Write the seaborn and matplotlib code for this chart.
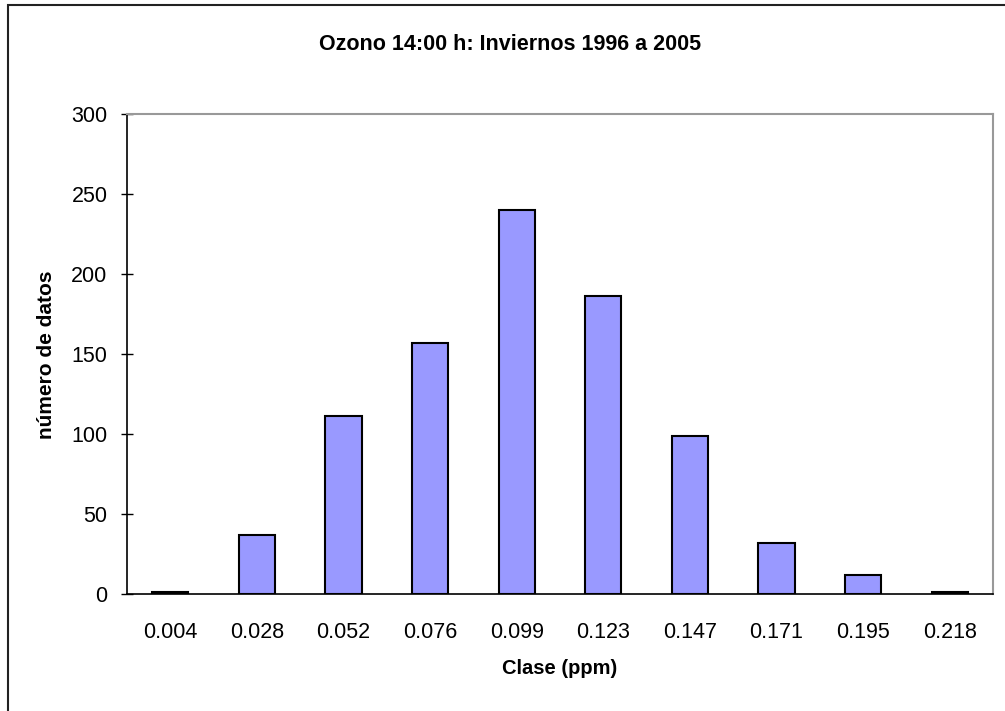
import matplotlib
matplotlib.use("Agg")
import matplotlib.pyplot as plt
import seaborn as sns
import pandas as pd
from matplotlib.patches import Rectangle

# ---------------------------
# Data
# ---------------------------
clases = ["0.004", "0.028", "0.052", "0.076", "0.099",
          "0.123", "0.147", "0.171", "0.195", "0.218"]
num_datos = [1, 37, 111, 157, 240, 186, 99, 32, 12, 1]

df = pd.DataFrame({"clase": clases, "n": num_datos})

sns.set_style("white")
plt.rcParams["font.family"] = ["Liberation Sans", "DejaVu Sans"]
plt.rcParams["text.color"] = "black"
plt.rcParams["xtick.color"] = "black"
plt.rcParams["ytick.color"] = "black"

fig = plt.figure(figsize=(10.05, 7.11), dpi=100)
ax = fig.add_axes([127 / 1005, 1 - 594 / 711, (993 - 127) / 1005, (594 - 114) / 711])

sns.barplot(x="clase", y="n", data=df, ax=ax, color="#9999FF",
            edgecolor="black", linewidth=1.5, width=0.42, saturation=1)

ax.set_xlim(-0.5, len(clases) - 0.5)
ax.set_ylim(0, 300)
ax.set_yticks(range(0, 301, 50))
ax.set_xlabel("")
ax.set_ylabel("")

# ticks: labels at the bar centres, marks between categories
ax.tick_params(axis="x", which="major", length=0, pad=20, labelsize=15.5,
               labelcolor="black")
ax.set_xticks([i - 0.5 for i in range(len(clases) + 1)], minor=True)
ax.tick_params(axis="x", which="minor", direction="inout", length=8, width=1, color="black")
ax.tick_params(axis="y", direction="inout", length=8, width=1, color="black",
               pad=10, labelsize=15.5, left=True, labelcolor="black")

for side in ["left", "bottom"]:
    ax.spines[side].set_color("black")
    ax.spines[side].set_linewidth(1.2)
for side in ["top", "right"]:
    ax.spines[side].set_visible(True)
    ax.spines[side].set_color("#999999")
    ax.spines[side].set_linewidth(1.5)

# ---------------------------
# Texts
# ---------------------------
fig.text(510 / 1005, 1 - 44 / 711, "Ozono 14:00 h: Inviernos 1996 a 2005",
         ha="center", va="center", fontsize=15.5, fontweight="bold", color="black")
fig.text(560 / 1005, 1 - 668 / 711, "Clase (ppm)",
         ha="center", va="center", fontsize=14.5, fontweight="bold", color="black")
fig.text(47 / 1005, 1 - 355 / 711, "número de datos", rotation=90,
         ha="center", va="center", fontsize=15, fontweight="bold", color="black")

# outer chart frame (only left and top edges fall inside the image)
fig.patches.append(Rectangle((8 / 1005, -0.02), 1.2, (711 - 5) / 711 + 0.02,
                             transform=fig.transFigure, fill=False,
                             edgecolor="#222222", linewidth=1.5))

fig.savefig("out.png", dpi=100)
